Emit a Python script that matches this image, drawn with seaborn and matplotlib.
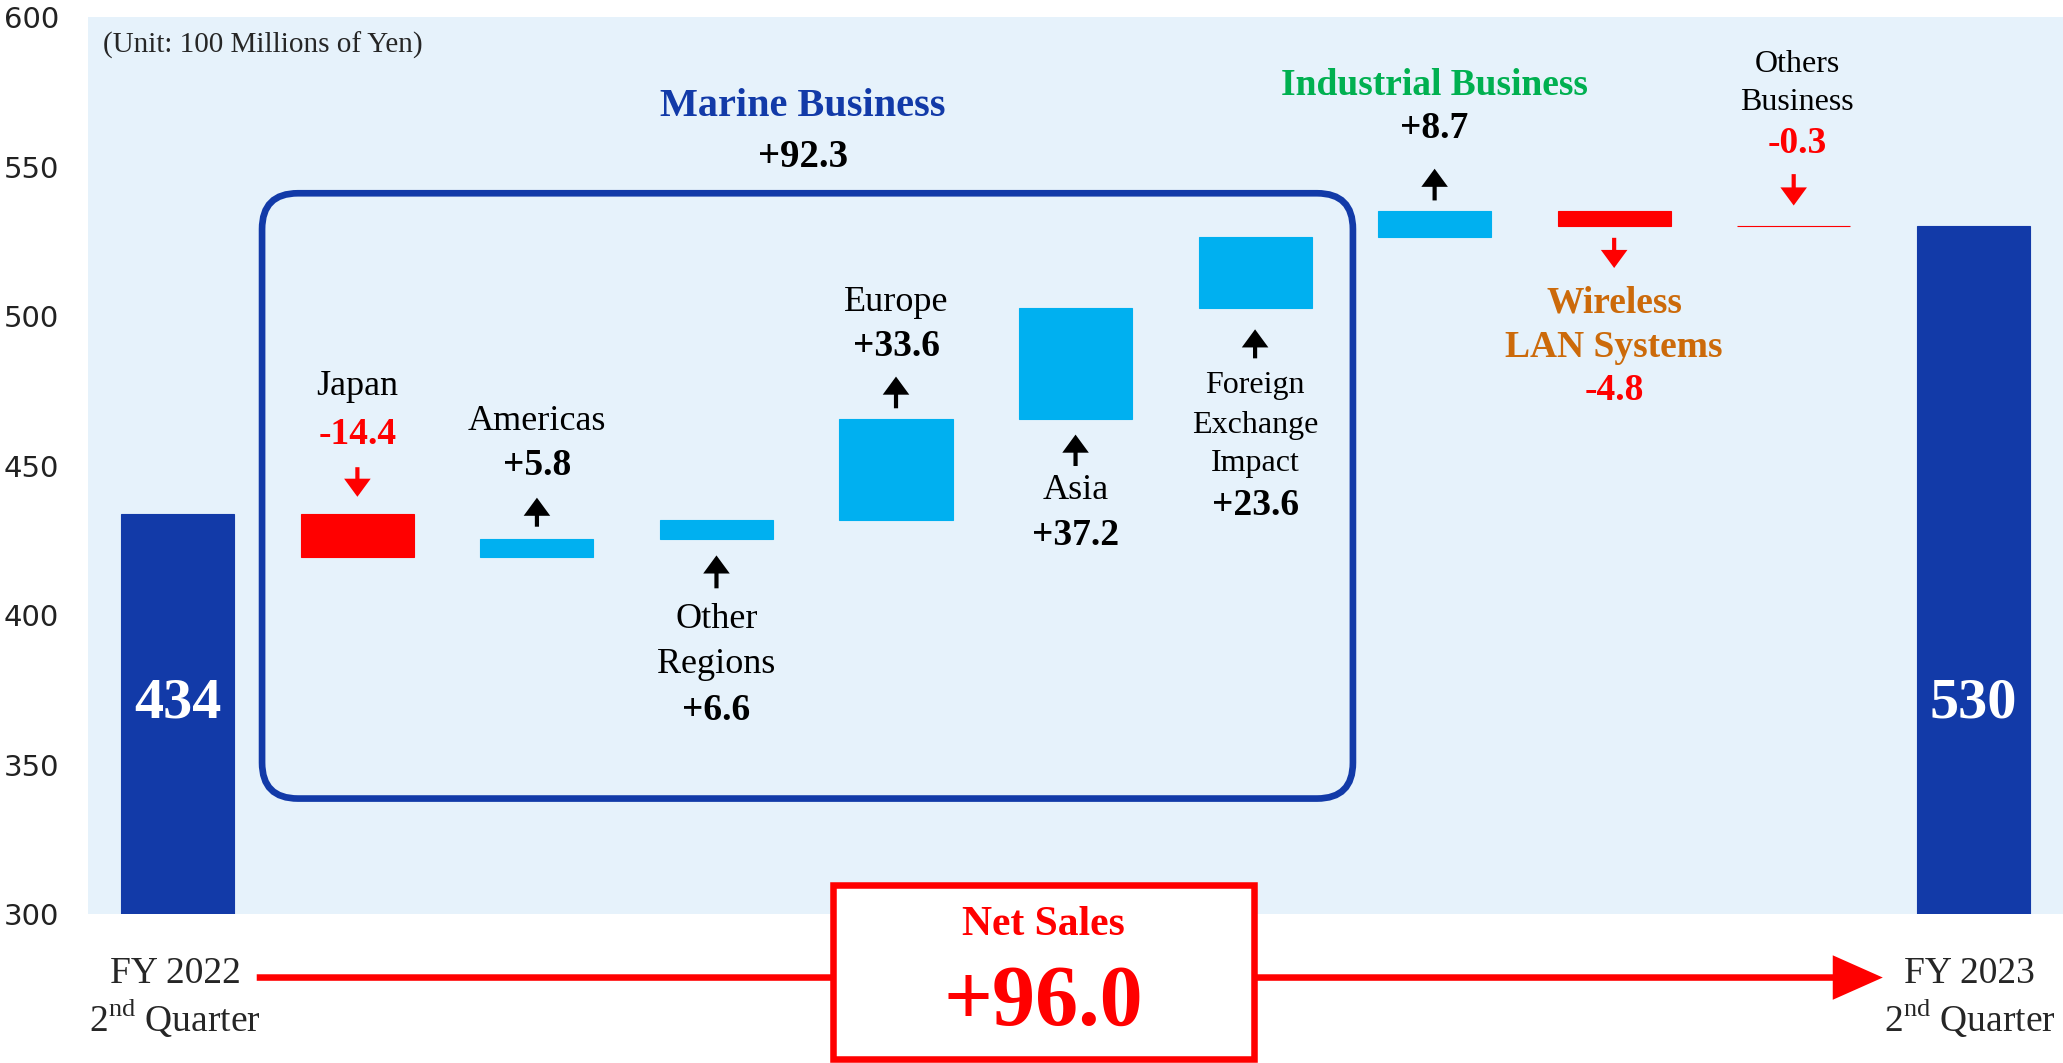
import numpy as np
import pandas as pd
import matplotlib
matplotlib.use("Agg")
import matplotlib.pyplot as plt
import seaborn as sns
from matplotlib.patches import FancyBboxPatch, Rectangle, FancyArrowPatch

# ---- data (100 millions of yen) ----
categories = ["FY 2022 2Q", "Japan", "Americas", "Other Regions", "Europe", "Asia",
              "Foreign Exchange Impact", "Industrial Business", "Wireless LAN Systems",
              "Others Business", "FY 2023 2Q"]
changes = [434, -14.4, 5.8, 6.6, 33.6, 37.2, 23.6, 8.7, -4.8, -0.3, 530]
is_total = [True, False, False, False, False, False, False, False, False, False, True]
marine_total = 92.3
net_change = 96.0
y_ticks = [300, 350, 400, 450, 500, 550, 600]

DARK = "#123AA8"
LIGHT = "#00B0F0"
RED = "#FF0000"
BG = "#E6F2FB"
GREEN = "#00B050"
ORANGE = "#CC6A0A"
SERIF = "Liberation Serif"

sns.set_style("white")
plt.rcParams["mathtext.fontset"] = "custom"
plt.rcParams["mathtext.rm"] = SERIF

# waterfall bottoms / heights
bottoms, heights, colors = [], [], []
running = 0
for c, tot in zip(changes, is_total):
    if tot:
        bottoms.append(0)
        running = c
        colors.append(DARK)
    else:
        bottoms.append(running)
        running += c
        colors.append(LIGHT if c > 0 else RED)
    heights.append(c)

df = pd.DataFrame({"category": categories, "change": heights})

fig = plt.figure(figsize=(20.63, 10.63), dpi=100)
ax = fig.add_axes([0.0427, 0.1399, 0.9573, 0.844])
ax.set_facecolor(BG)

sns.barplot(data=df, x="category", y="change", bottom=np.array(bottoms),
            width=0.63, errorbar=None, ax=ax, color=LIGHT)
for patch, col in zip(ax.patches, colors):
    patch.set_facecolor(col)
    patch.set_edgecolor(col)
    patch.set_linewidth(0.8)

ax.set_ylim(300, 600)
ax.set_xlim(-0.5, len(categories) - 0.5)
ax.set_yticks(y_ticks)
ax.set_yticklabels([str(t) for t in y_ticks], fontsize=21, family="DejaVu Sans", color="#222222")
ax.tick_params(axis="y", length=0, pad=21)
ax.set_xticks([])
ax.set_xlabel("")
ax.set_ylabel("")
for s in ax.spines.values():
    s.set_visible(False)


def txt(x, y, s, size=26, color="black", weight="normal"):
    ax.text(x, y, s, ha="center", va="center", fontsize=size, color=color,
            fontweight=weight, family=SERIF, zorder=5)


def arrow(x, y0, y1, color="black"):
    ax.annotate("", xy=(x, y1), xytext=(x, y0),
                arrowprops=dict(arrowstyle="-|>,head_length=0.3,head_width=0.22",
                                color=color, lw=3, mutation_scale=30,
                                joinstyle="miter", capstyle="butt",
                                shrinkA=0, shrinkB=0), zorder=5)


def val(c):
    return f"{c:+.1f}"


ax.text(0.0073, 0.968, "(Unit: 100 Millions of Yen)", transform=ax.transAxes,
        ha="left", va="center", fontsize=21, family=SERIF)

# Marine business box
box = FancyBboxPatch((0.469, 338.7), 6.545 - 0.469, 541.1 - 338.7,
                     boxstyle="round,pad=0,rounding_size=0.2", mutation_aspect=60,
                     fill=False, edgecolor=DARK, lw=4.8, zorder=4)
ax.add_patch(box)
txt(3.48, 570.1, "Marine Business", size=29, color=DARK, weight="bold")
txt(3.48, 552.9, val(marine_total), size=28, weight="bold")

# totals
txt(0, 370.4, f"{changes[0]:.0f}", size=42, color="white", weight="bold")
txt(10, 370.4, f"{changes[10]:.0f}", size=42, color="white", weight="bold")

# Japan
txt(1, 476.4, "Japan")
txt(1, 460.6, val(changes[1]), size=27, color=RED, weight="bold")
arrow(1.0, 449.5, 439.6, RED)
# Americas
txt(2, 464.9, "Americas")
txt(2, 450.0, val(changes[2]), size=27, weight="bold")
arrow(2.0, 429.6, 439.3)
# Other regions
arrow(3.0, 409.0, 420.0)
txt(3, 398.5, "Other")
txt(3, 383.6, "Regions")
txt(3, 368.2, val(changes[3]), size=27, weight="bold")
# Europe
txt(4, 504.5, "Europe")
txt(4, 490.0, val(changes[4]), size=27, weight="bold")
arrow(4.0, 469.2, 479.8)
# Asia
arrow(5.0, 449.9, 460.4)
txt(5, 441.6, "Asia")
txt(5, 426.7, val(changes[5]), size=27, weight="bold")
# FX
arrow(6.0, 485.9, 495.6)
txt(6, 476.8, "Foreign", size=23)
txt(6, 463.6, "Exchange", size=23)
txt(6, 450.9, "Impact", size=23)
txt(6, 436.8, val(changes[6]), size=27, weight="bold")
# Industrial
txt(7, 577.1, "Industrial Business", size=27, color=GREEN, weight="bold")
txt(7, 562.6, val(changes[7]), size=27, weight="bold")
arrow(7.0, 538.7, 549.3)
# Wireless LAN
arrow(8.0, 526.2, 516.1, RED)
txt(8, 504.5, "Wireless", size=27, color=ORANGE, weight="bold")
txt(8, 489.6, "LAN Systems", size=27, color=ORANGE, weight="bold")
txt(8, 475.1, f"{changes[8]:.1f}", size=27, color=RED, weight="bold")
# Others
txt(9.02, 584.2, "Others", size=23)
txt(9.02, 571.4, "Business", size=23)
txt(9.02, 557.8, f"{changes[9]:.1f}", size=27, color=RED, weight="bold")
arrow(9.0, 547.5, 537.0, RED)

# bottom: period labels, arrow, net sales box
fig.add_artist(FancyArrowPatch((0.1231, 0.0804), (0.914, 0.0804), transform=fig.transFigure,
                               arrowstyle="-|>,head_length=0.9,head_width=0.4",
                               mutation_scale=31, lw=4.7, color=RED, zorder=1,
                               joinstyle="miter", capstyle="butt"))
fig.add_artist(Rectangle((0.4037, 0.004), 0.2041, 0.163, transform=fig.transFigure,
                         facecolor="white", edgecolor=RED, lw=4.7, zorder=2))
fig.text(0.5057, 0.130, "Net Sales", ha="center", va="center", fontsize=30,
         color=RED, fontweight="bold", family=SERIF, zorder=3)
fig.text(0.5057, 0.0557, val(net_change), ha="center", va="center", fontsize=62,
         color=RED, fontweight="bold", family=SERIF, zorder=3)

for x, fy in [(0.0848, "FY 2022"), (0.9547, "FY 2023")]:
    fig.text(x, 0.0835, fy, ha="center", va="center", fontsize=27, family=SERIF)
    fig.text(x, 0.042, r"2$^{\mathrm{nd}}$ Quarter", ha="center", va="center",
             fontsize=27, family=SERIF)

fig.savefig("out.png", dpi=100)
